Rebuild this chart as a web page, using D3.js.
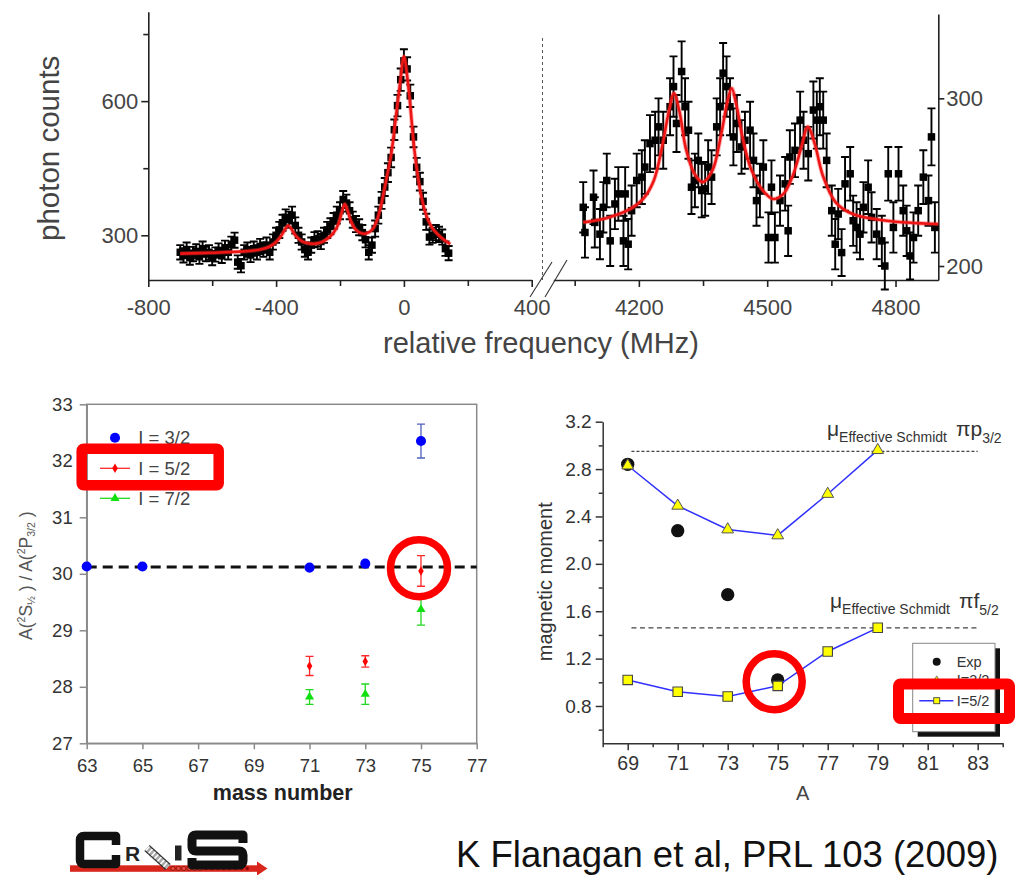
<!DOCTYPE html>
<html>
<head>
<meta charset="utf-8">
<script src="https://cdn.jsdelivr.net/npm/d3@7"></script>
<style>
  html, body { margin: 0; padding: 0; background: #fff; }
  svg { display: block; }
</style>
</head>
<body>
<svg id="chart" width="1018" height="875"></svg>
<script>
// ===================== DATA =====================
// --- Top panel, left scan (relative frequency in MHz, photon counts)
const leftFreq = [-700,-690,-680,-670,-660,-650,-640,-630,-620,-610,
  -600,-590,-580,-570,-560,-550,-540,-530,-520,-510,
  -500,-490,-480,-470,-460,-450,-440,-430,-420,-410,
  -400,-390,-380,-370,-360,-350,-340,-330,-320,-310,
  -300,-290,-280,-270,-260,-250,-240,-230,-220,-210,
  -200,-190,-180,-170,-160,-150,-140,-130,-120,-110,
  -100,-90,-80,-70,-60,-50,-40,-30,-20,-10,
  0,10,20,30,40,50,60,70,80,90,
  100,110,120,130,140];
const leftCounts = [262,255,268,250,258,264,252,270,258,262,
  249,257,266,254,272,262,280,289,240,232,
  262,268,256,270,262,275,268,278,262,285,
  300,312,328,340,335,345,322,300,285,268,
  262,278,290,292,286,300,312,320,332,345,
  355,380,372,355,335,325,318,306,290,262,
  278,315,345,378,408,440,474,536,590,648,
  690,672,612,520,452,420,376,330,296,300,
  306,302,296,270,260];
const leftErr = [16,16,16,16,16,16,16,16,16,16,
  16,16,16,16,16,16,17,17,15,15,
  16,16,16,16,16,17,16,17,16,17,
  17,18,18,18,18,19,18,17,17,16,
  16,17,17,17,17,17,18,18,18,19,
  19,19,19,19,18,18,18,17,17,16,
  17,18,19,19,20,21,22,23,24,25,
  26,26,25,23,21,20,19,18,17,17,
  17,17,17,16,16];
const leftFitFreq = [-700,-600,-500,-450,-420,-400,-385,-372,-362,-352,-340,-320,-300,-280,-260,-240,-220,-205,-195,-185,-175,-165,-150,-135,-118,-100,-85,-70,-55,-40,-25,-12,0,12,20,30,40,55,70,90,115,145];
const leftFitCounts = [259,261,264,268,275,285,298,313,322,314,300,287,282,281,284,292,306,325,350,370,352,330,312,305,304,312,332,372,425,480,565,640,700,645,590,510,450,385,345,315,296,280];

// --- Top panel, right scan
const rightFreq = [4070,4074,4094,4097,4109,4117,4125,4133,4144,4152,
  4164,4168,4175,4183,4195,4207,4214,4226,4238,4246,
  4257,4273,4281,4288,4300,4308,4316,4323,4331,4339,
  4347,4355,4362,4370,4382,4390,4397,4405,4413,4421,
  4429,4440,4448,4460,4468,4475,4483,4491,4503,4510,
  4518,4530,4542,4549,4553,4565,4577,4585,4596,4608,
  4616,4623,4631,4639,4651,4659,4666,4674,4682,4694,
  4701,4709,4717,4725,4736,4744,4756,4768,4775,4783,
  4795,4807,4818,4826,4834,4842,4853,4865,4877,4884,
  4892];
const rightCounts = [235,220,241,226,219,235,251,215,237,243,
  215,243,213,233,251,253,259,273,275,283,
  275,295,307,285,316,295,281,247,251,263,
  245,246,259,253,283,295,315,307,295,277,
  285,271,275,281,263,239,245,259,217,247,
  217,239,249,221,265,269,287,275,267,293,
  287,295,287,263,233,213,231,208,249,255,
  227,223,219,235,247,229,219,215,200,255,
  223,255,233,221,206,217,233,253,239,277,
  223];
const rightErr = [15,15,16,15,15,15,16,15,15,16,
  15,16,15,15,16,16,16,17,17,17,
  17,17,18,17,18,17,17,16,16,16,
  16,16,16,16,17,17,18,18,17,17,
  17,16,17,17,16,15,16,16,15,16,
  15,15,16,15,16,16,17,17,16,17,
  17,17,17,16,15,15,15,14,16,16,
  15,15,15,15,16,15,15,15,14,16,
  15,16,15,15,14,15,15,16,15,17,
  15];
const rightFitFreq = [4070,4130,4180,4210,4235,4255,4270,4282,4295,4310,4330,4349,4372,4392,4407,4417,4428,4443,4462,4490,4514,4538,4560,4580,4595,4611,4630,4660,4700,4780,4900];
const rightFitCounts = [226,229,234,240,251,272,292,303,292,270,255,250,257,278,298,306,296,276,258,245,240,243,254,271,283,273,254,238,231,227,225];

// --- Top panel ticks
const leftFreqTicks = [-800,-400,0,400];
const leftFreqMinor = [-600,-200,200];
const leftCountTicks = [300,600];
const leftCountMinor = [450,750];
const rightFreqTicks = [4200,4500,4800];
const rightFreqMinor = [4050,4350,4650];
const rightCountTicks = [200,300];

// --- Bottom-left panel: A(2S1/2)/A(2P3/2) vs mass number
const massI32 = [63,65,71,73,75];
const ratioI32 = [30.13,30.13,30.11,30.18,32.35];
const errI32 = [0.03,0.03,0.03,0.03,0.30];
const massI52 = [71,73,75];
const ratioI52 = [28.37,28.45,30.05];
const errI52 = [0.17,0.10,0.27];
const massI72 = [71,73,75];
const ratioI72 = [27.82,27.87,29.37];
const errI72 = [0.13,0.18,0.28];
const ratioReference = 30.12;
const blMassTicks = [63,65,67,69,71,73,75,77];
const blRatioTicks = [27,28,29,30,31,32,33];
const blLegend = ["I = 3/2","I = 5/2","I = 7/2"];

// --- Bottom-right panel: magnetic moment vs A
const expA = [69,71,73,75];
const expMu = [2.84,2.28,1.74,1.02];
const calcA = [69,71,73,75,77,79];
const muI32 = [2.83,2.49,2.29,2.24,2.59,2.96];
const muI52 = [1.02,0.92,0.88,0.97,1.26,1.46];
const schmidtP32 = 2.95;
const schmidtF52 = 1.46;
const brATicks = [69,71,73,75,77,79,81,83];
const brAMinor = [68,70,72,74,76,78,80,82,84];
const brMuTicks = [0.8,1.2,1.6,2.0,2.4,2.8,3.2];
const brMuMinor = [0.6,1.0,1.4,1.8,2.2,2.6,3.0];
const brLegend = ["Exp","I=3/2","I=5/2"];

// ===================== DRAWING =====================
const FONT = "'Liberation Sans', Arial, Helvetica, sans-serif";
const svg = d3.select("#chart");
const plain = d => String(d);   // hyphen-minus, no decimals for integers

function styleAxis(g, o) {
  g.attr("font-family", FONT).attr("font-size", o.fs || 20);
  g.select(".domain").attr("stroke", o.c).attr("stroke-width", o.w);
  g.selectAll(".tick line").attr("stroke", o.c).attr("stroke-width", o.w);
  g.selectAll(".tick text").attr("fill", o.tc || "#333");
  if (o.noDomain) g.select(".domain").remove();
  return g;
}
function drawAxis(ax, tr, o) {
  const g = svg.append("g").attr("transform", tr).call(ax);
  return styleAxis(g, o);
}
const blank = () => "";

// ---------- TOP PANEL ----------
const xL = d3.scaleLinear().domain([-800, 400]).range([148.3, 531.7]);
const yL = d3.scaleLinear().domain([200, 800]).range([280, 11.7]);
const xR = d3.scaleLinear().domain([4000, 4900]).range([553.3, 938.3]);
const yR = d3.scaleLinear().domain([191.65, 350.3]).range([280, 14]);
const topAx = {c: "#222", w: 1.6, fs: 22, tc: "#444"};

drawAxis(d3.axisBottom(xL).tickValues(leftFreqTicks).tickSize(7).tickPadding(12).tickSizeOuter(0).tickFormat(plain), "translate(0,280)", topAx);
drawAxis(d3.axisBottom(xL).tickValues(leftFreqMinor).tickSize(6).tickFormat(blank).tickSizeOuter(0), "translate(0,280)", Object.assign({}, topAx, {noDomain: true}));
drawAxis(d3.axisLeft(yL).tickValues(leftCountTicks).tickSize(7).tickPadding(3).tickSizeOuter(0).tickFormat(plain), `translate(${xL.range()[0]},0)`, topAx);
drawAxis(d3.axisLeft(yL).tickValues(leftCountMinor).tickSize(5).tickFormat(blank).tickSizeOuter(0), `translate(${xL.range()[0]},0)`, Object.assign({}, topAx, {noDomain: true}));

drawAxis(d3.axisBottom(xR).tickValues(rightFreqTicks).tickSize(7).tickPadding(12).tickSizeOuter(0).tickFormat(plain), "translate(0,280)", topAx);
drawAxis(d3.axisBottom(xR).tickValues(rightFreqMinor).tickSize(6).tickFormat(blank).tickSizeOuter(0), "translate(0,280)", Object.assign({}, topAx, {noDomain: true}));
drawAxis(d3.axisRight(yR).tickValues(rightCountTicks).tickSize(6).tickPadding(2).tickSizeOuter(0).tickFormat(plain), `translate(${xR.range()[1]},0)`, topAx);

// axis break marks and separating dashed line
const gapMid = (xL.range()[1] + xR.range()[0]) / 2;
svg.append("line").attr("x1", gapMid).attr("x2", gapMid).attr("y1", 38).attr("y2", 280)
  .attr("stroke", "#555").attr("stroke-width", 1).attr("stroke-dasharray", "3,3");
[[530, 297, 552, 262], [545, 297, 567, 260]].forEach(s => {
  svg.append("line").attr("x1", s[0]).attr("y1", s[1]).attr("x2", s[2]).attr("y2", s[3])
    .attr("stroke", "#333").attr("stroke-width", 1.1);
});

function scan(xs, ys, es, x, y, o) {
  const d = xs.map((v, i) => ({f: v, c: ys[i], e: es[i]}));
  const g = svg.append("g");
  g.selectAll("path.eb").data(d).join("path").attr("class", "eb")
    .attr("d", p => {
      const X = x(p.f), y1 = y(p.c + p.e), y2 = y(p.c - p.e), h = o.cap / 2;
      return `M${X - h},${y1}H${X + h}M${X},${y1}V${y2}M${X - h},${y2}H${X + h}`;
    })
    .attr("stroke", "#000").attr("stroke-width", o.ew).attr("fill", "none");
  g.selectAll("rect.mk").data(d).join("rect").attr("class", "mk")
    .attr("x", p => x(p.f) - o.ms / 2).attr("y", p => y(p.c) - o.ms / 2)
    .attr("width", o.ms).attr("height", o.ms).attr("fill", "#000");
}
scan(leftFreq, leftCounts, leftErr, xL, yL, {cap: 8, ew: 1.9, ms: 7.5});
scan(rightFreq, rightCounts, rightErr, xR, yR, {cap: 8, ew: 1.9, ms: 7.5});

function fit(fx, fy, x, y) {
  const line = d3.line().x(d => x(d[0])).y(d => y(d[1])).curve(d3.curveCatmullRom.alpha(0.5));
  const pts = fx.map((v, i) => [v, fy[i]]);
  svg.append("path").attr("d", line(pts)).attr("fill", "none")
    .attr("stroke", "#ff3030").attr("stroke-opacity", 0.35).attr("stroke-width", 4.5);
  svg.append("path").attr("d", line(pts)).attr("fill", "none")
    .attr("stroke", "#ee1515").attr("stroke-width", 2.6);
}
fit(leftFitFreq, leftFitCounts, xL, yL);
fit(rightFitFreq, rightFitCounts, xR, yR);

svg.append("text").attr("transform", "translate(58.5,148.3) rotate(-90)")
  .attr("text-anchor", "middle").attr("font-family", FONT).attr("font-size", 29.5)
  .attr("fill", "#444").text("photon counts");
svg.append("text").attr("x", 541).attr("y", 353.3).attr("text-anchor", "middle")
  .attr("font-family", FONT).attr("font-size", 29).attr("fill", "#444")
  .text("relative frequency (MHz)");

// ---------- BOTTOM-LEFT PANEL ----------
const xBL = d3.scaleLinear().domain([63, 77]).range([86.7, 476.7]);
const yBL = d3.scaleLinear().domain([27, 33]).range([743.3, 404.3]);
const blAx = {c: "#8a8a8a", w: 1.5, fs: 18.5, tc: "#333"};
svg.append("rect").attr("x", xBL.range()[0]).attr("y", yBL.range()[1])
  .attr("width", xBL.range()[1] - xBL.range()[0]).attr("height", yBL.range()[0] - yBL.range()[1])
  .attr("fill", "none").attr("stroke", "#8a8a8a").attr("stroke-width", 1.5);
drawAxis(d3.axisBottom(xBL).tickValues(blMassTicks).tickSize(6).tickPadding(10).tickSizeOuter(0).tickFormat(plain), `translate(0,${yBL.range()[0]})`, blAx);
drawAxis(d3.axisLeft(yBL).tickValues(blRatioTicks).tickSize(7).tickPadding(7).tickSizeOuter(0).tickFormat(plain), `translate(${xBL.range()[0]},0)`, blAx);

svg.append("line").attr("x1", xBL(63)).attr("x2", xBL(77)).attr("y1", yBL(ratioReference)).attr("y2", yBL(ratioReference))
  .attr("stroke", "#111").attr("stroke-width", 3.2).attr("stroke-dasharray", "10,6");

function errSeries(xs, ys, es, x, y, color, cap) {
  const g = svg.append("g");
  xs.forEach((v, i) => {
    const X = x(v), y1 = y(ys[i] + es[i]), y2 = y(ys[i] - es[i]), h = cap / 2;
    g.append("path").attr("d", `M${X - h},${y1}H${X + h}M${X},${y1}V${y2}M${X - h},${y2}H${X + h}`)
      .attr("stroke", color).attr("stroke-width", 1.3).attr("fill", "none");
  });
}
function markers(xs, ys, x, y, type, size, fill, stroke, sw) {
  const sym = d3.symbol().type(type).size(size);
  xs.forEach((v, i) => {
    svg.append("path").attr("d", sym()).attr("transform", `translate(${x(v)},${y(ys[i])})`)
      .attr("fill", fill).attr("stroke", stroke || "none").attr("stroke-width", sw || 0);
  });
}
errSeries(massI32, ratioI32, errI32, xBL, yBL, "#5060c0", 8);
errSeries(massI52, ratioI52, errI52, xBL, yBL, "#ff2a2a", 8);
errSeries(massI72, ratioI72, errI72, xBL, yBL, "#22d822", 8);
markers(massI32, ratioI32, xBL, yBL, d3.symbolCircle, 80, "#0000ff");
markers(massI52, ratioI52, xBL, yBL, d3.symbolDiamond, 26, "#ff0000");
markers(massI72, ratioI72, xBL, yBL, d3.symbolTriangle, 36, "#10e010");

// legend
const blLegY = [437.7, 468.3, 498.3];
svg.append("path").attr("d", d3.symbol().type(d3.symbolCircle).size(80)()).attr("transform", `translate(115,${blLegY[0]})`).attr("fill", "#0000ff");
svg.append("line").attr("x1", 100).attr("x2", 130).attr("y1", blLegY[1]).attr("y2", blLegY[1]).attr("stroke", "#ff2a2a").attr("stroke-width", 1.3);
svg.append("path").attr("d", d3.symbol().type(d3.symbolDiamond).size(26)()).attr("transform", `translate(115,${blLegY[1]})`).attr("fill", "#ff0000");
svg.append("line").attr("x1", 100).attr("x2", 130).attr("y1", blLegY[2]).attr("y2", blLegY[2]).attr("stroke", "#22d822").attr("stroke-width", 1.3);
svg.append("path").attr("d", d3.symbol().type(d3.symbolTriangle).size(36)()).attr("transform", `translate(115,${blLegY[2]})`).attr("fill", "#10e010");
blLegend.forEach((t, i) => {
  svg.append("text").attr("x", 138.3).attr("y", blLegY[i]).attr("dy", "0.36em")
    .attr("font-family", FONT).attr("font-size", 18.5).attr("fill", "#444").text(t);
});

svg.append("text").attr("x", 282.7).attr("y", 800).attr("text-anchor", "middle")
  .attr("font-family", FONT).attr("font-weight", "bold").attr("font-size", 21.5).attr("fill", "#222").text("mass number");
const yl = svg.append("text").attr("transform", "translate(31.5,575.7) rotate(-90)")
  .attr("text-anchor", "middle").attr("font-family", FONT).attr("font-size", 17.5).attr("fill", "#555");
yl.append("tspan").text("A(");
yl.append("tspan").attr("font-size", 10.5).attr("dy", -7).text("2");
yl.append("tspan").attr("dy", 7).text("S");
yl.append("tspan").attr("font-size", 10.5).attr("dy", 3).text("½");
yl.append("tspan").attr("dy", -3).text(" ) / A(");
yl.append("tspan").attr("font-size", 10.5).attr("dy", -7).text("2");
yl.append("tspan").attr("dy", 7).text("P");
yl.append("tspan").attr("font-size", 10.5).attr("dy", 3).text("3/2");
yl.append("tspan").attr("dy", -3).text(" )");

// red annotations
svg.append("rect").attr("x", 81.7).attr("y", 448.7).attr("width", 137).attr("height", 36.6).attr("rx", 2)
  .attr("fill", "none").attr("stroke", "#ff0000").attr("stroke-width", 10.5);
svg.append("circle").attr("cx", xBL(75) - 2).attr("cy", yBL(30.1)).attr("r", 28.5)
  .attr("fill", "none").attr("stroke", "#ff0000").attr("stroke-width", 7.5);

// ---------- BOTTOM-RIGHT PANEL ----------
const xBR = d3.scaleLinear().domain([68, 84]).range([602.7, 1002.7]);
const yBR = d3.scaleLinear().domain([0.485, 3.2]).range([743.3, 421.7]);
const brAx = {c: "#333", w: 1.5, fs: 19.5, tc: "#333"};
drawAxis(d3.axisBottom(xBR).tickValues(brATicks).tickSize(7).tickPadding(6).tickSizeOuter(0).tickFormat(plain), `translate(0,${yBR.range()[0]})`, brAx);
drawAxis(d3.axisBottom(xBR).tickValues(brAMinor).tickSize(4).tickFormat(blank).tickSizeOuter(0), `translate(0,${yBR.range()[0]})`, Object.assign({}, brAx, {noDomain: true}));
drawAxis(d3.axisLeft(yBR).tickValues(brMuTicks).tickSize(7).tickPadding(4).tickSizeOuter(0).tickFormat(d3.format(".1f")), `translate(${xBR.range()[0]},0)`, Object.assign({}, brAx, {fs: 19}));
drawAxis(d3.axisLeft(yBR).tickValues(brMuMinor).tickSize(4).tickFormat(blank).tickSizeOuter(0), `translate(${xBR.range()[0]},0)`, Object.assign({}, brAx, {noDomain: true}));

svg.append("line").attr("x1", xBR(69.15)).attr("x2", xBR(83)).attr("y1", yBR(schmidtP32)).attr("y2", yBR(schmidtP32))
  .attr("stroke", "#444").attr("stroke-width", 1.2).attr("stroke-dasharray", "3,2");
svg.append("line").attr("x1", xBR(69.15)).attr("x2", xBR(83)).attr("y1", yBR(schmidtF52)).attr("y2", yBR(schmidtF52))
  .attr("stroke", "#444").attr("stroke-width", 1.3).attr("stroke-dasharray", "5,3.5");

function schmidtLabel(x, y, orbital, j) {
  const t = svg.append("text").attr("x", x).attr("y", y).attr("font-family", FONT).attr("fill", "#333");
  t.append("tspan").attr("font-size", 21).text("μ");
  t.append("tspan").attr("font-size", 14).attr("dy", 6).text("Effective Schmidt");
  t.append("tspan").attr("font-size", 21).attr("dy", -6).attr("dx", 9).text("π" + orbital);
  t.append("tspan").attr("font-size", 14).attr("dy", 7).text(j);
}
schmidtLabel(xBR(76.97), 436, "p", "3/2");
schmidtLabel(xBR(77.09), 608, "f", "5/2");

markers(expA, expMu, xBR, yBR, d3.symbolCircle, 140, "#111");
const lineBR = d3.line().x((d, i) => xBR(calcA[i])).y(d => yBR(d));
svg.append("path").attr("d", lineBR(muI32)).attr("fill", "none").attr("stroke", "#3030ff").attr("stroke-width", 1.5);
svg.append("path").attr("d", lineBR(muI52)).attr("fill", "none").attr("stroke", "#3030ff").attr("stroke-width", 1.5);
markers(calcA, muI32, xBR, yBR, d3.symbolTriangle, 60, "#ffff00", "#555", 1);
markers(calcA, muI52, xBR, yBR, d3.symbolSquare, 90, "#ffff00", "#444", 1.1);

// legend box with shadow
svg.append("rect").attr("x", 917.7).attr("y", 648.3).attr("width", 82.3).attr("height", 88.4).attr("fill", "#111");
svg.append("rect").attr("x", 912.7).attr("y", 643.3).attr("width", 82.3).attr("height", 88.4)
  .attr("fill", "#fff").attr("stroke", "#888").attr("stroke-width", 1);
const brLegY = [661.7, 680, 700.7];
svg.append("circle").attr("cx", 936.7).attr("cy", brLegY[0]).attr("r", 4).attr("fill", "#111");
svg.append("path").attr("d", d3.symbol().type(d3.symbolTriangle).size(22)()).attr("transform", `translate(936.7,${brLegY[1]})`).attr("fill", "#ffff00").attr("stroke", "#555").attr("stroke-width", 0.8);
svg.append("line").attr("x1", 919.3).attr("x2", 953.3).attr("y1", brLegY[2]).attr("y2", brLegY[2]).attr("stroke", "#3030ff").attr("stroke-width", 1.4);
svg.append("rect").attr("x", 933.7).attr("y", brLegY[2] - 3).attr("width", 6).attr("height", 6).attr("fill", "#ffff00").attr("stroke", "#444").attr("stroke-width", 0.9);
brLegend.forEach((t, i) => {
  svg.append("text").attr("x", 956.7).attr("y", brLegY[i]).attr("dy", "0.36em")
    .attr("font-family", FONT).attr("font-size", 14.5).attr("fill", "#333").text(t);
});

svg.append("text").attr("x", 802.7).attr("y", 800.3).attr("text-anchor", "middle")
  .attr("font-family", FONT).attr("font-size", 20).attr("fill", "#444").text("A");
svg.append("text").attr("transform", "translate(551.7,581.7) rotate(-90)").attr("text-anchor", "middle")
  .attr("font-family", FONT).attr("font-size", 20).attr("fill", "#333").text("magnetic moment");

svg.append("rect").attr("x", 898.5).attr("y", 684).attr("width", 111).attr("height", 34.5).attr("rx", 2)
  .attr("fill", "none").attr("stroke", "#ff0000").attr("stroke-width", 11);
svg.append("circle").attr("cx", xBR(75) - 3.5).attr("cy", yBR(1.005)).attr("r", 28)
  .attr("fill", "none").attr("stroke", "#ff0000").attr("stroke-width", 7.5);

// ---------- FOOTER: CRIS logo + citation ----------
const logo = svg.append("g");
logo.append("rect").attr("x", 70).attr("y", 865.3).attr("width", 188).attr("height", 6.5).attr("fill", "#d8261c");
logo.append("path").attr("d", "M257,861.5L267.5,868.5L257,875.5Z").attr("fill", "#d8261c");
for (let i = 0; i < 6; i++) {
  logo.append("circle").attr("cx", 173 + i * 5.4).attr("cy", 868.5).attr("r", 2.1)
    .attr("fill", "#e84a3a").attr("stroke", "#7a1010").attr("stroke-width", 0.7);
}
for (let i = 0; i < 8; i++) {
  logo.append("circle").attr("cx", 206 + i * 5.9).attr("cy", 868.5).attr("r", 1.7).attr("fill", "#8c0c0c");
}
logo.append("path").attr("d", "M116,845L116,836L84,836Q80,836 80,840L80,860Q80,864 84,864L116,864L116,855")
  .attr("fill", "none").attr("stroke", "#111").attr("stroke-width", 8.5).attr("stroke-linejoin", "round");
logo.append("text").attr("x", 125).attr("y", 861).attr("font-family", FONT).attr("font-weight", "bold")
  .attr("font-size", 21).attr("fill", "#222").text("R");
logo.append("line").attr("x1", 147).attr("y1", 848).attr("x2", 168).attr("y2", 867).attr("stroke", "#333").attr("stroke-width", 8);
logo.append("line").attr("x1", 147).attr("y1", 848).attr("x2", 168).attr("y2", 867).attr("stroke", "#aaa").attr("stroke-width", 5.5);
logo.append("line").attr("x1", 147).attr("y1", 848).attr("x2", 168).attr("y2", 867).attr("stroke", "#fff").attr("stroke-width", 5.5).attr("stroke-dasharray", "1.5,2.5");
logo.append("rect").attr("x", 175).attr("y", 845.5).attr("width", 6.5).attr("height", 15).attr("fill", "#222");
logo.append("path").attr("d", "M243,843L243,835L196,835Q192,835 192,839L192,847Q192,851 196,851L239,851Q243,851 243,855L243,861Q243,865 239,865L192,865L192,858")
  .attr("fill", "none").attr("stroke", "#111").attr("stroke-width", 9).attr("stroke-linejoin", "round");

svg.append("text").attr("x", 456).attr("y", 867).attr("font-family", FONT).attr("font-size", 36.5)
  .attr("fill", "#111").text("K Flanagan et al, PRL 103 (2009)");
</script>
</body>
</html>
